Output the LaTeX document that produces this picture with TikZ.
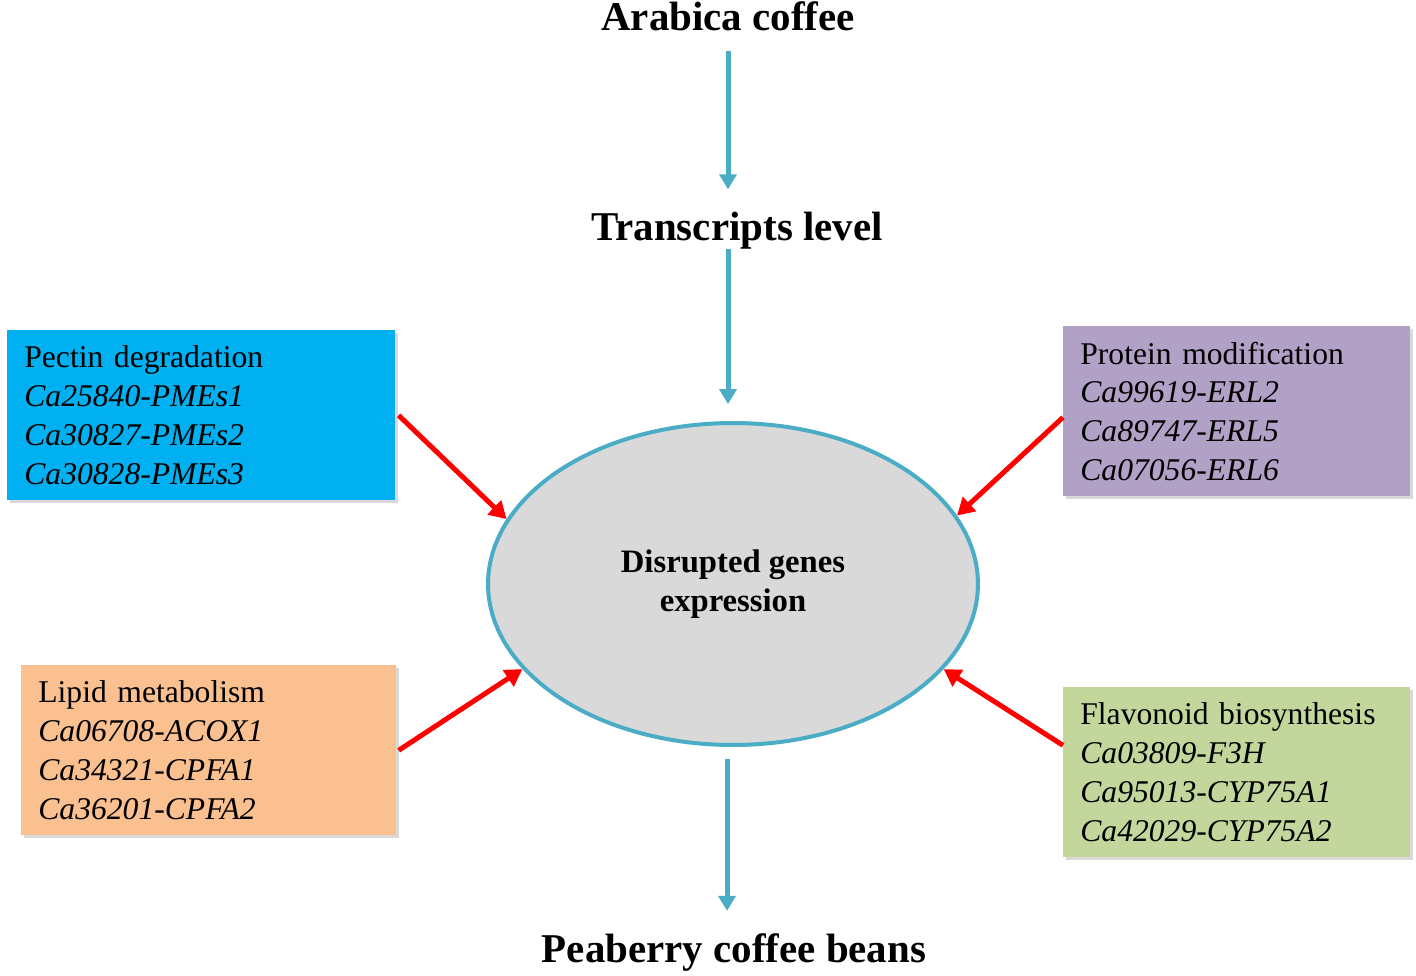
\documentclass[tikz,border=0pt]{standalone}
\usepackage{fontspec}
\setmainfont{Liberation Serif}
\usepackage{tikz}
\usetikzlibrary{arrows.meta}
\usetikzlibrary{shapes.geometric}
\usetikzlibrary{shadows}

\definecolor{pectinblue}{HTML}{00B0F0}
\definecolor{proteinlilac}{HTML}{B2A1C7}
\definecolor{lipidpeach}{HTML}{FAC090}
\definecolor{flavogreen}{HTML}{C3D69B}
\definecolor{flowblue}{HTML}{4BACC6}
\definecolor{ellgray}{HTML}{D9D9D9}

\tikzset{
  genebox/.style={rectangle, anchor=north west, align=left, inner xsep=0.34cm, inner ysep=0pt,
    minimum height=3.4cm, font=\fontsize{18}{22.1}\selectfont,
    drop shadow={shadow xshift=1.5pt, shadow yshift=-1.5pt, opacity=0.3}},
  level/.style={anchor=base, inner sep=0pt, font=\fontsize{23.3}{28}\bfseries\selectfont},
  flow/.style={draw=flowblue, line width=0.1cm, -{Triangle[width=0.34cm,length=0.3cm]}},
  push/.style={draw=red, line width=0.1cm, -{Triangle[width=0.38cm,length=0.34cm]}}
}

\begin{document}
\begin{tikzpicture}[x=0.02cm, y=-0.02cm]
        \useasboundingbox (0,0) rectangle (1416,975);

        \node[level] (arabica) at (728,30) {Arabica coffee};
        \node[level] (transcripts) at (737,240) {Transcripts level};
        \node[level] (peaberry) at (734,962) {Peaberry coffee beans};

        \node[ellipse, draw=flowblue, line width=0.08cm, fill=ellgray, inner sep=0pt,
              minimum width=9.8cm, minimum height=6.44cm, align=center,
              font=\fontsize{18.6}{22.1}\bfseries\selectfont] (disrupt) at (733,584) {Disrupted genes\\expression};

        % gene groups
        \node[genebox, fill=pectinblue, text width=7.08cm] (pectin) at (7,330)
            {Pectin degradation\\ \textit{Ca25840-PMEs1}\\ \textit{Ca30827-PMEs2}\\ \textit{Ca30828-PMEs3}};
        \node[genebox, fill=proteinlilac, text width=6.26cm] (protein) at (1063,326)
            {Protein modification\\ \textit{Ca99619-ERL2}\\ \textit{Ca89747-ERL5}\\ \textit{Ca07056-ERL6}};
        \node[genebox, fill=lipidpeach, text width=6.82cm] (lipid) at (21,665)
            {Lipid metabolism\\ \textit{Ca06708-ACOX1}\\ \textit{Ca34321-CPFA1}\\ \textit{Ca36201-CPFA2}};
        \node[genebox, fill=flavogreen, text width=6.26cm] (flavo) at (1063,687)
            {Flavonoid biosynthesis\\ \textit{Ca03809-F3H}\\ \textit{Ca95013-CYP75A1}\\ \textit{Ca42029-CYP75A2}};

        \draw[flow, shorten <=0.4cm, shorten >=0.44cm] (arabica.south) -- (arabica.south |- transcripts.north);
        \draw[flow, shorten >=0.34cm] (transcripts.south -| arabica.south) -- (arabica.south |- disrupt.north);
        \draw[flow, shorten <=0.24cm, shorten >=0.44cm] ([xshift=-0.12cm]disrupt.south) -- ([xshift=-0.12cm]disrupt.south |- peaberry.north);

        \draw[push] ([xshift=0.06cm]pectin.east) -- (disrupt.164);
        \draw[push] ([xshift=0.04cm]lipid.east) -- (disrupt.202);
        \draw[push] ([yshift=-0.12cm]protein.west) -- (disrupt.17.5);
        \draw[push] ([yshift=0.54cm]flavo.west) -- (disrupt.338);
    \end{tikzpicture}
\end{document}
